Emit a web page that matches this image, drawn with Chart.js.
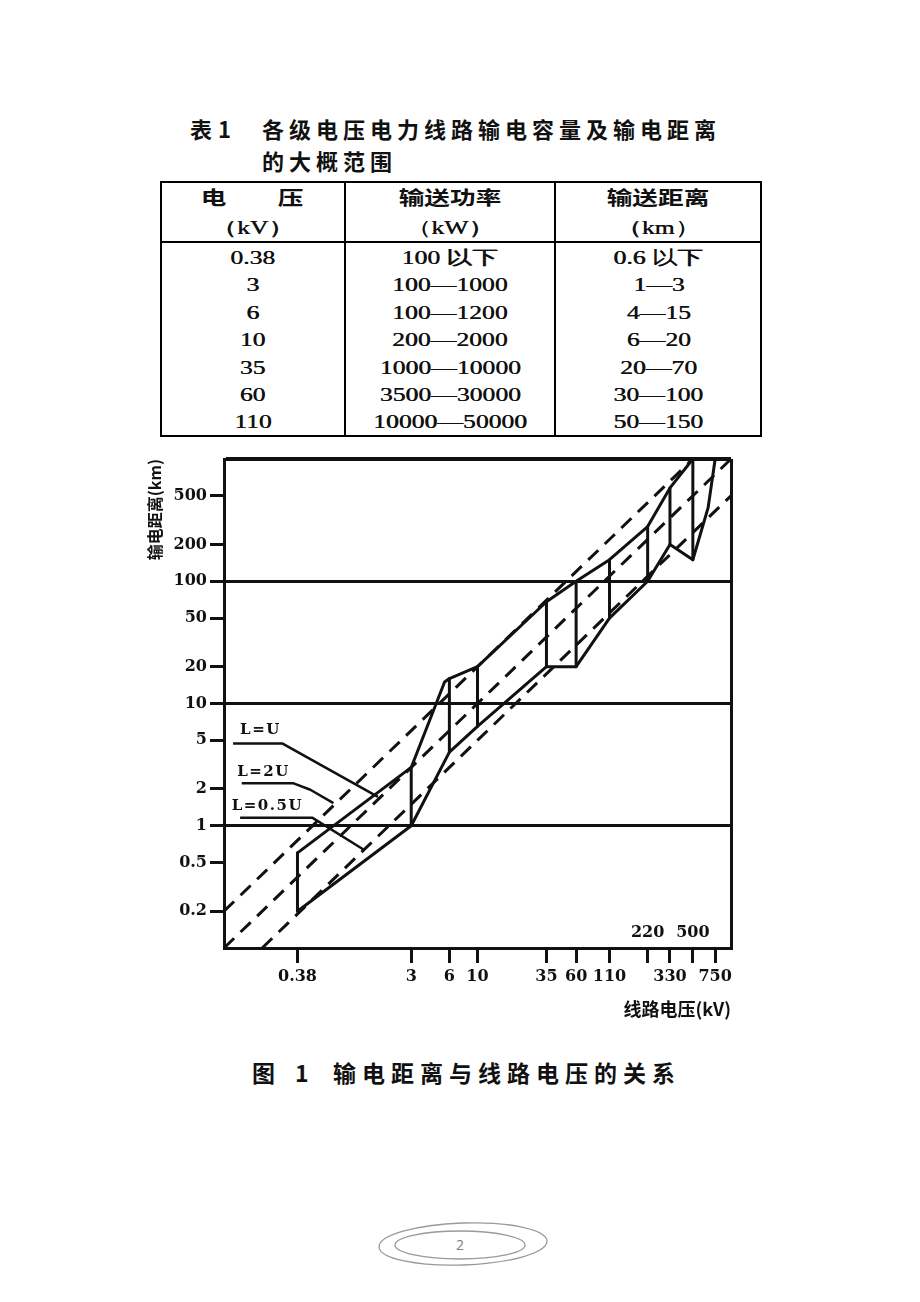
<!DOCTYPE html>
<html>
<head>
<meta charset="utf-8">
<script src="https://cdn.jsdelivr.net/npm/chart.js@4.4.0/dist/chart.umd.min.js"></script>
<style>
html,body{margin:0;padding:0;background:#fff;}
body{width:920px;height:1302px;position:relative;overflow:hidden;font-family:"Noto Sans CJK SC",sans-serif;color:#111;}
.abs{position:absolute;white-space:nowrap;}
.ttl{font-family:"Noto Sans CJK SC",sans-serif;font-weight:700;font-size:22px;letter-spacing:5px;line-height:28px;}
.cap{font-family:"Noto Sans CJK SC",sans-serif;font-weight:700;font-size:23px;letter-spacing:6px;line-height:30px;}
.cell{position:absolute;text-align:center;white-space:nowrap;height:28px;line-height:28px;}
.cell span{display:inline-block;transform:scaleX(1.35);}
.num{font-family:"Liberation Serif","DejaVu Serif",serif;font-size:19px;text-shadow:0.4px 0 0 #111;}
.hd{font-family:"Noto Sans CJK SC",sans-serif;font-weight:700;font-size:19px;}
.ln{position:absolute;background:#000;}
#wrap{position:absolute;left:130px;top:440px;width:620px;height:600px;}
</style>
</head>
<body>
<div class="abs ttl" style="left:190px;top:114px;letter-spacing:0">表<span style="margin-left:6px">1</span></div>
<div class="abs ttl" style="left:262px;top:114px;">各级电压电力线路输电容量及输电距离</div>
<div class="abs ttl" style="left:262px;top:146px;">的大概范围</div>

<div id="tbl"></div>

<div id="wrap"><canvas id="c"></canvas></div>

<div class="abs cap" style="left:252px;top:1057px;letter-spacing:0">图<span style="margin-left:20px">1</span></div>
<div class="abs cap" style="left:333px;top:1057px;">输电距离与线路电压的关系</div>

<svg class="abs" style="left:0;top:1200px" width="920" height="90">
  <ellipse cx="463" cy="44" rx="84" ry="21" fill="none" stroke="#9a9a9a" stroke-width="1.3" transform="rotate(-2 463 44)"/>
  <ellipse cx="460" cy="45" rx="65" ry="14" fill="none" stroke="#9a9a9a" stroke-width="1.3"/>
  <text x="460" y="50" text-anchor="middle" font-family="Open Sans, sans-serif" font-size="14" fill="#808080">2</text>
</svg>

<script>
// ---------- Table 1 data ----------
const tableHeaders = ['电　　压', '输送功率', '输送距离'];
const tableUnits = ['（kV）', '（kW）', '（km）'];
const tableVoltage = ['0.38', '3', '6', '10', '35', '60', '110'];
const tablePower = ['100 以下', '100—1000', '100—1200', '200—2000', '1000—10000', '3500—30000', '10000—50000'];
const tableDistance = ['0.6 以下', '1—3', '4—15', '6—20', '20—70', '30—100', '50—150'];

// ---------- Figure 1 data (kV vs km) ----------
const xTicks = [0.38, 3, 6, 10, 35, 60, 110, 220, 330, 500, 750];
const xTickLabels = ['0.38', '3', '6', '10', '35', '60', '110', '', '330', '', '750'];
const innerXLabels = [220, 500];
const yTicks = [0.2, 0.5, 1, 2, 5, 10, 20, 50, 100, 200, 500];
const yTickLabels = ['0.2', '0.5', '1', '2', '5', '10', '20', '50', '100', '200', '500'];
const yGridValues = [1, 10, 100];

// range bars at each voltage level
const segVoltage = [0.38, 3, 6, 10, 35, 60, 110, 220, 330, 500];
const segDistLow = [0.2, 1, 4, 6.5, 20, 20, 50, 100, 200, 150];
const segDistHigh = [0.6, 3, 16, 20, 68, 100, 150, 280, 580, 1000];
// upper envelope
const upperVoltage = [0.38, 3, 5.5, 6, 10, 35, 60, 110, 220, 330, 500];
const upperDist = [0.6, 3, 15, 16, 20, 68, 100, 150, 280, 580, 1000];
// lower envelope
const lowerVoltage = [0.38, 3, 6, 10, 35, 60, 110, 220, 330, 500, 660, 750];
const lowerDist = [0.2, 1, 4, 6.5, 20, 20, 50, 100, 200, 150, 400, 1000];

// reference lines L=U, L=2U, L=0.5U
const lineUVolt = [0.1, 1000];
const lineUDist = [0.1, 1000];
const line2UVolt = [0.1, 500];
const line2UDist = [0.2, 1000];
const lineHalfVolt = [0.2, 1000];
const lineHalfDist = [0.1, 500];

// leader lines for the labels
const leaderUVolt = [0.118, 0.29, 1.64];
const leaderUDist = [4.7, 4.7, 1.72];
const leader2UVolt = [0.138, 0.35, 0.48, 0.73];
const leader2UDist = [2.23, 2.23, 1.97, 1.53];
const leaderHalfVolt = [0.134, 0.5, 1.26];
const leaderHalfDist = [1.16, 1.16, 0.64];
const curveLabels = ['L=U', 'L=2U', 'L=0.5U'];
const labelVolt = [0.134, 0.127, 0.115];
const labelDist = [6.1, 2.76, 1.44];

// ---------- build table ----------
(function buildTable() {
  const host = document.getElementById('tbl');
  const L = 160, T = 181, R = 762, B = 437;
  const cols = [160, 345, 555, 762];
  const add = (html) => host.insertAdjacentHTML('beforeend', html);
  add(`<div class="ln" style="left:${L}px;top:${T}px;width:${R-L}px;height:2px"></div>`);
  add(`<div class="ln" style="left:${L}px;top:${B-2}px;width:${R-L}px;height:2px"></div>`);
  add(`<div class="ln" style="left:${L}px;top:${T}px;width:2px;height:${B-T}px"></div>`);
  add(`<div class="ln" style="left:${R-2}px;top:${T}px;width:2px;height:${B-T}px"></div>`);
  add(`<div class="ln" style="left:344px;top:${T}px;width:2px;height:${B-T}px"></div>`);
  add(`<div class="ln" style="left:554px;top:${T}px;width:2px;height:${B-T}px"></div>`);
  add(`<div class="ln" style="left:${L}px;top:241px;width:${R-L}px;height:2px"></div>`);
  const cell = (ci, cy, txt, cls) => {
    const w = cols[ci+1] - cols[ci];
    add(`<div class="cell ${cls}" style="left:${cols[ci]}px;top:${cy-14}px;width:${w}px"><span>${txt}</span></div>`);
  };
  tableHeaders.forEach((h, i) => cell(i, 197, h, 'hd'));
  tableUnits.forEach((h, i) => cell(i, 228, h, 'num'));
  tableVoltage.forEach((v, r) => {
    const cy = 258 + r * 27.4;
    cell(0, cy, v, 'num');
    cell(1, cy, tablePower[r], 'num');
    cell(2, cy, tableDistance[r], 'num');
  });
})();

// ---------- chart ----------
const pts = (xs, ys) => xs.map((v, i) => ({ x: v, y: ys[i] }));
const solid = { borderColor: '#111', borderWidth: 3, pointRadius: 0, showLine: true, fill: false,
  borderJoinStyle: 'round', borderCapStyle: 'round', tension: 0 };
const dashed = { borderColor: '#111', borderWidth: 3, pointRadius: 0, showLine: true, fill: false,
  borderDash: [14, 9], tension: 0 };
const leader = { borderColor: '#111', borderWidth: 2.5, pointRadius: 0, showLine: true, fill: false,
  borderJoinStyle: 'round', tension: 0 };

const datasets = [
  { ...solid, label: 'upper', data: pts(upperVoltage, upperDist) },
  { ...solid, label: 'lower', data: pts(lowerVoltage, lowerDist) },
  ...segVoltage.map((v, i) => ({ ...solid, label: 'range ' + v,
      data: [{ x: v, y: segDistLow[i] }, { x: v, y: segDistHigh[i] }] })),
  { ...dashed, label: 'L=U', data: pts(lineUVolt, lineUDist) },
  { ...dashed, label: 'L=2U', data: pts(line2UVolt, line2UDist) },
  { ...dashed, label: 'L=0.5U', data: pts(lineHalfVolt, lineHalfDist) },
  { ...leader, label: 'leader U', data: pts(leaderUVolt, leaderUDist) },
  { ...leader, label: 'leader 2U', data: pts(leader2UVolt, leader2UDist) },
  { ...leader, label: 'leader 0.5U', data: pts(leaderHalfVolt, leaderHalfDist) },
];

const near = (a, b) => Math.abs(a - b) < 1e-6 * Math.max(1, Math.abs(b));
const tickFont = { family: '"DejaVu Serif", serif', size: 16, weight: 'bold' };

const annot = {
  id: 'annot',
  afterDatasetsDraw(chart) {
    const { ctx, scales: { x, y } } = chart;
    ctx.save();
    ctx.fillStyle = '#111';
    ctx.font = 'bold 16px "DejaVu Serif"';
    ctx.textBaseline = 'middle';
    ctx.textAlign = 'center';
    innerXLabels.forEach(v => ctx.fillText(String(v), x.getPixelForValue(v), y.bottom - 15));
    ctx.textAlign = 'left';
    ctx.font = 'bold 15px "DejaVu Serif"';
    try { ctx.letterSpacing = '1.5px'; } catch (e) {}
    curveLabels.forEach((t, i) => ctx.fillText(t, x.getPixelForValue(labelVolt[i]), y.getPixelForValue(labelDist[i])));
    ctx.restore();
  }
};

new Chart(document.getElementById('c'), {
  type: 'scatter',
  data: { datasets },
  plugins: [annot],
  options: {
    responsive: true,
    maintainAspectRatio: false,
    animation: false,
    devicePixelRatio: 1,
    layout: { padding: { left: 0, top: 19, right: 19, bottom: 17 } },
    plugins: { legend: { display: false }, tooltip: { enabled: false } },
    scales: {
      x: {
        type: 'logarithmic',
        min: 0.1, max: 1000,
        afterBuildTicks: s => { s.ticks = [...xTicks, 1000].map(v => ({ value: v })); },
        afterFit: s => { s.height = 75; },
        ticks: {
          autoSkip: false, maxRotation: 0, minRotation: 0, padding: 4,
          color: '#111', font: tickFont,
          callback: (v) => { const i = xTicks.findIndex(t => near(t, v)); return i >= 0 ? xTickLabels[i] : ''; }
        },
        grid: {
          drawOnChartArea: true,
          color: c => (c.tick && near(c.tick.value, 1000)) ? '#111' : 'rgba(0,0,0,0)',
          lineWidth: 3,
          tickColor: c => (c.tick && near(c.tick.value, 1000)) ? 'rgba(0,0,0,0)' : '#111',
          tickLength: 15, tickWidth: 3
        },
        border: { display: true, color: '#111', width: 3 },
        title: {
          display: true, text: '线路电压(kV)', align: 'end', color: '#111',
          font: { family: '"Noto Sans CJK SC", sans-serif', size: 18, weight: 'bold' },
          padding: { top: 2, bottom: 3 }
        }
      },
      y: {
        type: 'logarithmic',
        min: 0.1, max: 1000,
        afterBuildTicks: s => { s.ticks = [...yTicks, 1000].map(v => ({ value: v })); },
        afterFit: s => { s.width = 94; },
        ticks: {
          autoSkip: false, padding: 3, color: '#111', font: tickFont,
          callback: (v) => { const i = yTicks.findIndex(t => near(t, v)); return i >= 0 ? yTickLabels[i] : ''; }
        },
        grid: {
          drawOnChartArea: true,
          color: c => (c.tick && (yGridValues.some(g => near(g, c.tick.value)) || near(c.tick.value, 1000))) ? '#111' : 'rgba(0,0,0,0)',
          lineWidth: c => (c.tick && near(c.tick.value, 1000)) ? 4 : 3,
          tickColor: c => (c.tick && near(c.tick.value, 1000)) ? 'rgba(0,0,0,0)' : '#111',
          tickLength: 14, tickWidth: 3
        },
        border: { display: true, color: '#111', width: 3 },
        title: {
          display: true, text: '输电距离(km)', align: 'end', color: '#111',
          font: { family: '"Noto Sans CJK SC", sans-serif', size: 16, weight: 'bold' },
          padding: { top: 15, bottom: 0 }
        }
      }
    }
  }
});
</script>
</body>
</html>
